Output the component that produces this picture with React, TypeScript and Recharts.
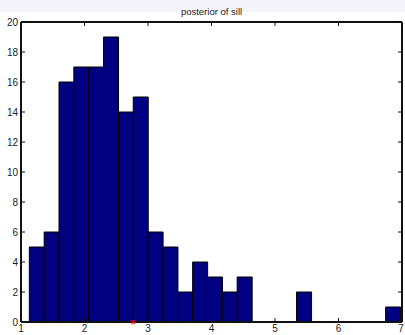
import React from 'react';
import { ComposedChart, Bar, XAxis, YAxis, ReferenceLine, ReferenceDot } from 'recharts';

const binStart = 1.131;
const binWidth = 0.2338;
const counts = [5, 6, 16, 17, 17, 19, 14, 15, 6, 5, 2, 4, 3, 2, 3, 0, 0, 0, 2, 0, 0, 0, 0, 0, 1];
const xTicks = [1, 2, 3, 4, 5, 6, 7];
const yTicks = [0, 2, 4, 6, 8, 10, 12, 14, 16, 18, 20];
const marker = [{ x: 2.764, y: 0 }];
const title = 'posterior of sill';

const data = counts.map((c, i) => ({ center: binStart + (i + 0.5) * binWidth, count: c }));

const FONT = '"Liberation Sans", Arial, sans-serif';
const AX = '#111111';
const X_MIN = 1, X_MAX = 7, Y_MIN = 0, Y_MAX = 20;

const W = 405, H = 335;
const M = { top: 22, right: 3, bottom: 0, left: 0 };
const Y_AXIS_W = 21, X_AXIS_H = 13;

const BottomTick = (p: any) => (
  <g>
    <line x1={p.x} x2={p.x} y1={p.y} y2={p.y - 4} stroke={AX} strokeWidth={1} />
    <text x={p.x} y={p.y + 10} textAnchor="middle" fontSize={10} fontFamily={FONT} fill="#222">
      {p.payload.value}
    </text>
  </g>
);
const LeftTick = (p: any) => (
  <g>
    <line x1={p.x} x2={p.x + 4} y1={p.y} y2={p.y} stroke={AX} strokeWidth={1} />
    <text x={p.x - 3} y={p.y + 3.5} textAnchor="end" fontSize={10} fontFamily={FONT} fill="#222">
      {p.payload.value}
    </text>
  </g>
);
const TopTickShape = (p: any) => (
  <line x1={p.cx} x2={p.cx} y1={p.cy} y2={p.cy + 4} stroke={AX} strokeWidth={1} />
);
const RightTickShape = (p: any) => (
  <line x1={p.cx} x2={p.cx - 4} y1={p.cy} y2={p.cy} stroke={AX} strokeWidth={1} />
);

const Star = (p: any) => {
  const { cx, cy } = p;
  const r = 2.5;
  return (
    <g stroke="#ff0000" strokeWidth={1}>
      <line x1={cx - r} x2={cx + r} y1={cy} y2={cy} />
      <line x1={cx} x2={cx} y1={cy - r} y2={cy + r} />
      <line x1={cx - r * 0.7} x2={cx + r * 0.7} y1={cy - r * 0.7} y2={cy + r * 0.7} />
      <line x1={cx - r * 0.7} x2={cx + r * 0.7} y1={cy + r * 0.7} y2={cy - r * 0.7} />
    </g>
  );
};

export default function App() {
  return (
    <div style={{ position: 'fixed', left: 0, top: 0, width: W, height: H, background: '#ffffff' }}>
      <div style={{ position: 'absolute', left: 0, top: 0, width: W, height: 12, background: '#f4f4fa' }} />
      <div
        style={{
          position: 'absolute',
          left: 21,
          width: 381,
          top: 7,
          textAlign: 'center',
          fontSize: 9.5,
          fontFamily: FONT,
          color: '#222',
          lineHeight: '10px',
        }}
      >
        {title}
      </div>
      <div style={{ position: 'absolute', left: 0, top: 0 }}>
        <ComposedChart width={W} height={H} data={data} margin={M} barCategoryGap={0} barGap={0}>
          <XAxis
            dataKey="center"
            type="number"
            domain={[X_MIN, X_MAX]}
            ticks={xTicks}
            height={X_AXIS_H}
            tickSize={0}
            tickMargin={0}
            tick={<BottomTick />}
            axisLine={{ stroke: AX, strokeWidth: 2 }}
            tickLine={false}
          />
          <YAxis
            type="number"
            domain={[Y_MIN, Y_MAX]}
            ticks={yTicks}
            width={Y_AXIS_W}
            tickSize={0}
            tickMargin={0}
            tick={<LeftTick />}
            axisLine={{ stroke: AX, strokeWidth: 2 }}
            tickLine={false}
            interval={0}
          />
          <Bar dataKey="count" fill="#000080" stroke="#000000" strokeWidth={1} isAnimationActive={false} />
          <ReferenceLine y={Y_MAX} stroke={AX} strokeWidth={2} ifOverflow="visible" />
          <ReferenceLine x={X_MAX} stroke={AX} strokeWidth={2} ifOverflow="visible" />
          {xTicks.map((t) => (
            <ReferenceDot key={'tt' + t} x={t} y={Y_MAX} r={2} ifOverflow="visible" shape={<TopTickShape />} />
          ))}
          {yTicks.map((t) => (
            <ReferenceDot key={'rt' + t} x={X_MAX} y={t} r={2} ifOverflow="visible" shape={<RightTickShape />} />
          ))}
          {marker.map((m, i) => (
            <ReferenceDot key={'m' + i} x={m.x} y={m.y} r={3} ifOverflow="visible" shape={<Star />} />
          ))}
        </ComposedChart>
      </div>
    </div>
  );
}
